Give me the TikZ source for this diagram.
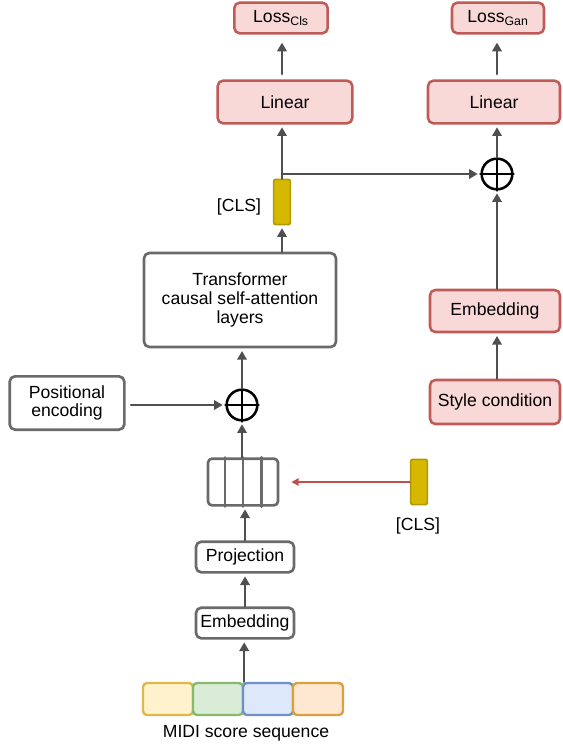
\documentclass[tikz,border=0pt]{standalone}
\usepackage{fontspec}
\setmainfont{Liberation Sans}
\usetikzlibrary{arrows.meta,calc}

\definecolor{boxgrey}{HTML}{6A6A6A}
\definecolor{arrowgrey}{HTML}{4F4F4F}
\definecolor{lossfill}{HTML}{F9D8D8}
\definecolor{lossred}{HTML}{BE5B57}
\definecolor{clsfill}{HTML}{D6B800}
\definecolor{clsedge}{HTML}{B39800}
\definecolor{clsred}{HTML}{C0504D}
\definecolor{midiyfill}{HTML}{FFF2CC}
\definecolor{midiyedge}{HTML}{DDB84A}
\definecolor{midigfill}{HTML}{D9EDD6}
\definecolor{midigedge}{HTML}{86BA6A}
\definecolor{midibfill}{HTML}{DDE8FA}
\definecolor{midibedge}{HTML}{6F90CC}
\definecolor{midiofill}{HTML}{FFE8D2}
\definecolor{midioedge}{HTML}{DCA040}

\begin{document}
\begin{tikzpicture}[
    x=0.75pt,y=-0.75pt,
    font=\fontsize{13.2}{14}\selectfont,
    line cap=round,
    line join=round,
    greybox/.style={draw=boxgrey, fill=white, line width=2pt, rounded corners=4pt, align=center, inner sep=1pt},
    pinkbox/.style={draw=lossred, fill=lossfill, line width=1.9pt, rounded corners=4pt, align=center, inner sep=1pt},
    clsbar/.style={draw=clsedge, fill=clsfill, line width=1.2pt, rounded corners=1.5pt,
        minimum width=12.5pt, minimum height=34pt, inner sep=0pt},
    sumnode/.style={circle, draw=black, line width=1.9pt, minimum size=23pt, inner sep=0pt},
    midicell/.style 2 args={draw=#1, fill=#2, line width=1.8pt, rounded corners=3pt,
        minimum width=37.5pt, minimum height=24pt, inner sep=0pt},
    flowarrow/.style={
        draw=arrowgrey,
        line width=1.9pt,
        -{Triangle[length=6.5pt,width=7pt]},
        shorten >=2pt
    },
    clsarrow/.style={draw=clsred, line width=1.4pt, -{Triangle[length=5.5pt,width=5.5pt]}, shorten >=9pt},
    plainlab/.style={inner sep=1pt}
]
\useasboundingbox (0,0) rectangle (562,746);

% classification head
\node[pinkbox, minimum width=70pt, minimum height=23pt] (lossCls) at (281,18) {Loss\textsubscript{Cls}};
\node[pinkbox, minimum width=101pt, minimum height=32pt] (linearCls) at (285,102) {Linear};
\node[clsbar] (clsTop) at (282,202) {};
\node[plainlab] (clsTopLab) at (239,207) {[CLS]};

% style head
\node[pinkbox, minimum width=69pt, minimum height=23pt] (lossGan) at (498,18) {Loss\textsubscript{Gan}};
\node[pinkbox, minimum width=99pt, minimum height=32pt] (linearGan) at (494,102) {Linear};
\node[sumnode] (sumGan) at (497,174) {};
\node[pinkbox, minimum width=97.5pt, minimum height=31.5pt] (embedStyle) at (495,311) {Embedding};
\node[pinkbox, minimum width=97.5pt, minimum height=33pt] (styleCond) at (495,402) {Style condition};

% backbone
\node[greybox, minimum width=144pt, minimum height=70.5pt] (transformer) at (240,300)
    {Transformer\\causal self-attention\\layers};
\node[greybox, minimum width=86pt, minimum height=40pt] (posEnc) at (67,403) {Positional\\encoding};
\node[sumnode] (sumPos) at (242,405) {};
\node[greybox, minimum width=52.5pt, minimum height=35pt, rounded corners=3pt] (tokens) at (243,482) {};
\node[clsbar] (clsIn) at (419,482) {};
\node[plainlab] (clsInLab) at (418,526) {[CLS]};
\node[greybox, minimum width=73.5pt, minimum height=23pt] (projection) at (245,557) {Projection};
\node[greybox, minimum width=73.5pt, minimum height=23pt] (embedding) at (245,623) {Embedding};

\foreach \i/\ce/\cf in {1/midiyedge/midiyfill,2/midigedge/midigfill,3/midibedge/midibfill,4/midioedge/midiofill} {
    \node[midicell={\ce}{\cf}] (midi\i) at ({118+50*\i},699) {};
}
\node[plainlab] (midiLab) at (246,733) {MIDI score sequence};

% token cells
\foreach \i in {1,2,3} {
    \draw[draw=boxgrey, line width=2pt]
        ($(tokens.north west)!\i/4!(tokens.north east)$) -- ($(tokens.south west)!\i/4!(tokens.south east)$);
}

% plus signs
\draw[line width=1.9pt] (sumPos.north) -- (sumPos.south) (sumPos.west) -- (sumPos.east);
\draw[line width=1.9pt] (sumGan.north) -- (sumGan.south) (sumGan.west) -- (sumGan.east);

% arrows, bottom to top
\draw[flowarrow] (midi2.north east) -- (embedding.south -| midi2.north east);
\draw[flowarrow] (embedding.north) -- (projection.south);
\draw[flowarrow] (projection.north) -- (tokens.south -| projection.north);
\draw[clsarrow] (clsIn.west) -- (tokens.east);
\draw[flowarrow] (tokens.north -| sumPos) -- (sumPos.south);
\draw[flowarrow, shorten <=4pt] (posEnc.east |- sumPos) -- (sumPos.west);
\draw[flowarrow] (sumPos.north) -- (transformer.south -| sumPos);
\draw[flowarrow] (transformer.north -| clsTop) -- (clsTop.south);
\draw[flowarrow] (clsTop.north) -- (linearCls.south -| clsTop);
\coordinate (branch) at (clsTop.north |- sumGan);
\draw[flowarrow] (branch) -- (sumGan.west);
\draw[flowarrow, shorten <=4pt, shorten >=6pt] (linearCls.north -| clsTop) -- (lossCls.south -| clsTop);

\draw[flowarrow] (styleCond.north -| sumGan) -- (embedStyle.south -| sumGan);
\draw[flowarrow] (embedStyle.north -| sumGan) -- (sumGan.south);
\draw[flowarrow] (sumGan.north) -- (linearGan.south -| sumGan);
\draw[flowarrow, shorten <=4pt, shorten >=6pt] (linearGan.north -| sumGan) -- (lossGan.south -| sumGan);
\end{tikzpicture}
\end{document}
